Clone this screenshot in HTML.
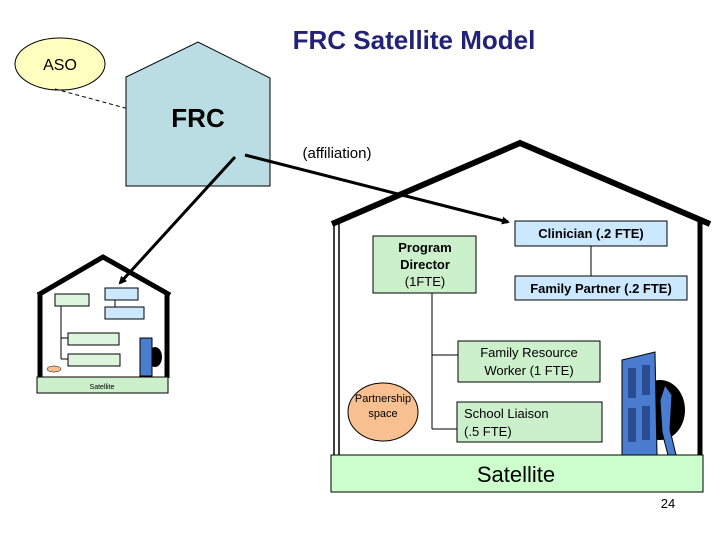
<!DOCTYPE html>
<html><head><style>body{margin:0;background:#fff}svg{display:block}text{font-family:"Liberation Sans",sans-serif}</style></head><body>
<svg width="720" height="540" viewBox="0 0 720 540">
<defs><marker id="ah" markerWidth="8" markerHeight="8" refX="6" refY="4" orient="auto" markerUnits="userSpaceOnUse"><path d="M0,0 L8,4 L0,8 z" fill="#000"/></marker></defs>
<text x="414" y="49" text-anchor="middle" font-size="26" font-weight="bold" fill="#222277">FRC Satellite Model</text>
<ellipse cx="60" cy="64" rx="45" ry="26" fill="#ffffc0" stroke="#000"/>
<text x="60" y="70" text-anchor="middle" font-size="16">ASO</text>
<line x1="55" y1="89" x2="140" y2="112" stroke="#000" stroke-dasharray="4,3"/>
<polygon points="126,77 198,42 270,78 270,186 126,186" fill="#b9dde2" stroke="#000"/>
<text x="198" y="127" text-anchor="middle" font-size="26" font-weight="bold">FRC</text>
<text x="337" y="158" text-anchor="middle" font-size="15">(affiliation)</text>
<polyline points="332,224 520,143 710,224" fill="none" stroke="#000" stroke-width="6"/>
<line x1="334" y1="222" x2="334" y2="456" stroke="#000" stroke-width="1.5"/>
<line x1="339" y1="222" x2="339" y2="456" stroke="#000" stroke-width="1.5"/>
<line x1="700" y1="222" x2="700" y2="456" stroke="#000" stroke-width="5"/>
<rect x="331" y="455" width="372" height="37" fill="#ccffcc" stroke="#000"/>
<text x="516" y="482" text-anchor="middle" font-size="22">Satellite</text>
<line x1="245" y1="155" x2="508" y2="222" stroke="#000" stroke-width="3" marker-end="url(#ah)"/>
<line x1="235" y1="157" x2="120" y2="283" stroke="#000" stroke-width="3" marker-end="url(#ah)"/>
<line x1="432" y1="293" x2="432" y2="429" stroke="#000"/>
<line x1="432" y1="355" x2="458" y2="355" stroke="#000"/>
<line x1="432" y1="429" x2="457" y2="429" stroke="#000"/>
<line x1="591" y1="246" x2="591" y2="276" stroke="#000"/>
<rect x="373" y="236" width="103" height="57" fill="#ccf0cc" stroke="#000"/>
<text x="425" y="252" text-anchor="middle" font-size="13" font-weight="bold">Program</text>
<text x="425" y="269" text-anchor="middle" font-size="13" font-weight="bold">Director</text>
<text x="425" y="286" text-anchor="middle" font-size="13">(1FTE)</text>
<rect x="515" y="221" width="152" height="25" fill="#cce8ff" stroke="#000"/>
<text x="591" y="238" text-anchor="middle" font-size="13" font-weight="bold">Clinician (.2 FTE)</text>
<rect x="515" y="276" width="172" height="24" fill="#cce8ff" stroke="#000"/>
<text x="601" y="293" text-anchor="middle" font-size="13" font-weight="bold">Family Partner (.2 FTE)</text>
<rect x="458" y="341" width="142" height="41" fill="#ccf0cc" stroke="#000"/>
<text x="529" y="357" text-anchor="middle" font-size="13">Family Resource</text>
<text x="529" y="375" text-anchor="middle" font-size="13">Worker (1 FTE)</text>
<rect x="457" y="402" width="145" height="40" fill="#ccf0cc" stroke="#000"/>
<text x="464" y="418" font-size="13">School Liaison</text>
<text x="464" y="436" font-size="13">(.5 FTE)</text>
<ellipse cx="383" cy="412" rx="35" ry="29" fill="#f8c090" stroke="#000"/>
<text x="383" y="402" text-anchor="middle" font-size="11">Partnership</text>
<text x="383" y="417" text-anchor="middle" font-size="11">space</text>
<ellipse cx="660" cy="410" rx="25" ry="30" fill="#000"/>
<polygon points="622,360 655,352 657,455 622,455" fill="#4a7cd0" stroke="#000"/>
<rect x="628" y="368" width="8" height="30" fill="#2a4c90"/><rect x="642" y="365" width="8" height="30" fill="#2a4c90"/>
<rect x="628" y="408" width="8" height="34" fill="#2a4c90"/><rect x="642" y="406" width="8" height="34" fill="#2a4c90"/>
<path d="M665,385 L672,395 L670,430 L676,455 L668,455 L662,432 L660,400 Z" fill="#4a7cd0" stroke="#000"/>
<polyline points="38,295 103,257 170,295" fill="none" stroke="#000" stroke-width="5"/>
<line x1="40" y1="292" x2="40" y2="378" stroke="#000" stroke-width="5"/>
<line x1="167" y1="292" x2="167" y2="378" stroke="#000" stroke-width="5"/>
<rect x="37" y="377" width="131" height="16" fill="#ccf0cc" stroke="#000"/>
<text x="102" y="389" text-anchor="middle" font-size="7">Satellite</text>
<line x1="61" y1="306" x2="61" y2="359" stroke="#000"/>
<line x1="61" y1="338" x2="68" y2="338" stroke="#000"/><line x1="61" y1="359" x2="68" y2="359" stroke="#000"/>
<line x1="115" y1="300" x2="115" y2="307" stroke="#000"/>
<rect x="55" y="294" width="34" height="12" fill="#ddf5dd" stroke="#000"/>
<rect x="105" y="288" width="33" height="12" fill="#cce8ff" stroke="#000"/>
<rect x="105" y="307" width="39" height="12" fill="#cce8ff" stroke="#000"/>
<rect x="68" y="333" width="51" height="12" fill="#ddf5dd" stroke="#000"/>
<rect x="68" y="354" width="52" height="12" fill="#ddf5dd" stroke="#000"/>
<ellipse cx="54" cy="369" rx="7" ry="3" fill="#f8c090" stroke="#000" stroke-width="0.5"/>
<ellipse cx="155" cy="357" rx="7" ry="10" fill="#000"/>
<rect x="140" y="338" width="12" height="38" fill="#4a7cd0" stroke="#000"/>
<text x="668" y="508" text-anchor="middle" font-size="13">24</text>
</svg>
</body></html>
